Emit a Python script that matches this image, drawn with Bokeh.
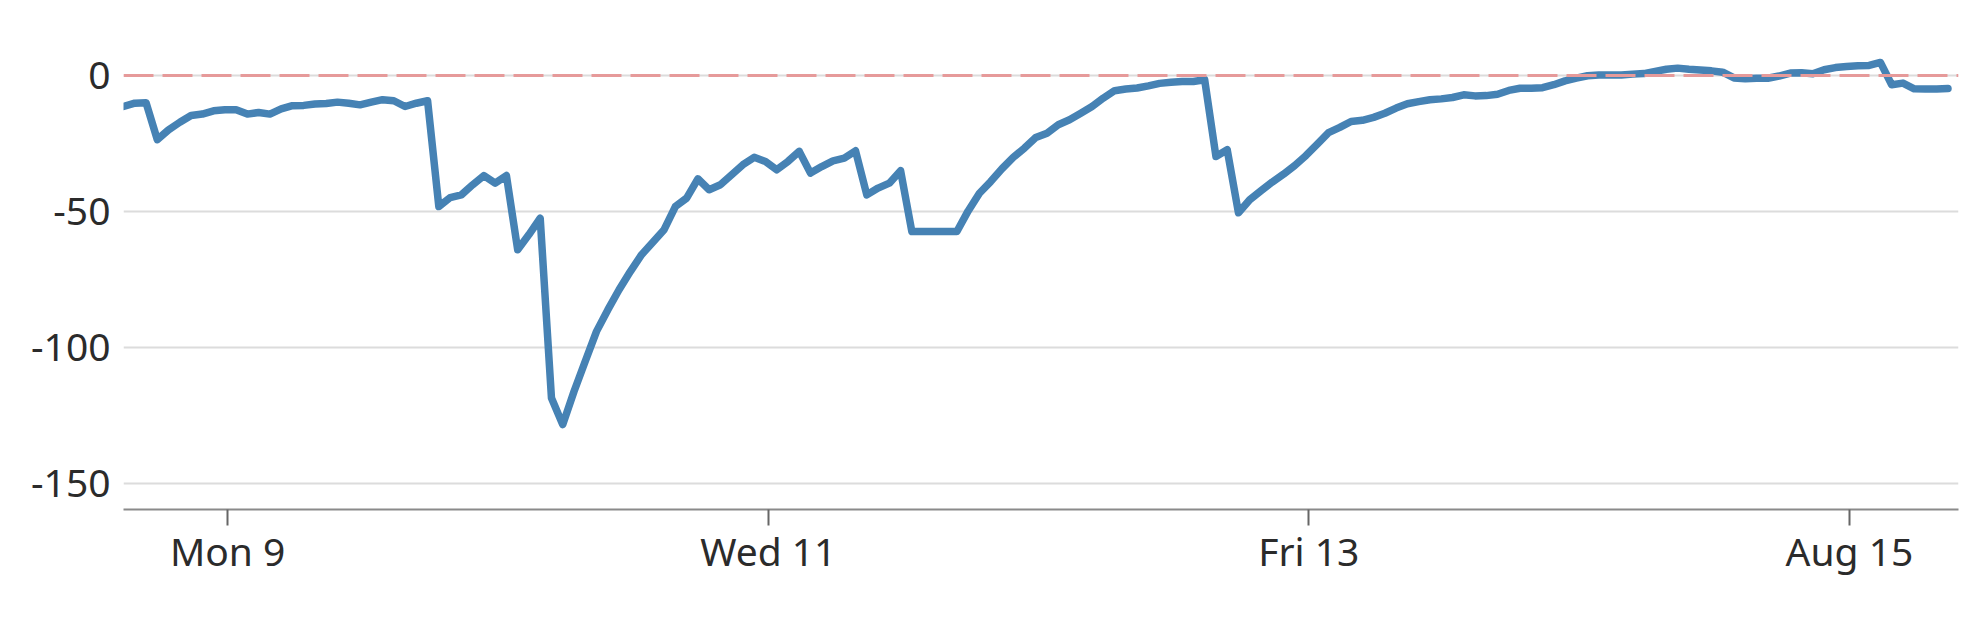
import pandas as pd
from bokeh.plotting import figure
from bokeh.models import FixedTicker, Range1d, Span
from bokeh.embed import file_html
from bokeh.resources import INLINE

# ---- data -------------------------------------------------------------
start = "2021-08-08 14:45"          # first hourly sample
values = [
    -11.4, -10.2, -10.0, -23.6, -20.0, -17.2, -14.7, -14.2, -13.0, -12.6,
    -12.6, -14.2, -13.6, -14.2, -12.3, -11.1, -11.0, -10.5, -10.3,
    -9.8, -10.2, -10.8, -9.8, -8.9, -9.3, -11.4, -10.2, -9.3, -48.2,
    -44.9, -43.9, -40.2, -36.8, -39.6, -36.8, -64.1, -58.5,
    -52.5, -118.6, -128.4, -116.2, -105.1, -94.1, -86.2, -78.8, -72.1,
    -65.9, -61.3, -56.7, -48.2, -45.1, -38.0, -42.0, -40.2,
    -36.5, -32.8, -30.1, -31.6, -34.7, -31.6, -27.9, -35.9, -33.5,
    -31.4, -30.4, -27.7, -43.9, -41.4, -39.6, -35.0, -57.4, -57.4,
    -57.4, -57.4, -57.4, -49.8, -43.3, -39.0, -34.3, -30.1, -26.7,
    -22.8, -21.2, -18.1, -16.3, -13.9, -11.4, -8.3, -5.6, -5.0,
    -4.6, -3.8, -2.9, -2.5, -2.2, -2.2, -1.6, -29.8, -27.3,
    -50.5, -45.7, -42.4, -39.2, -36.3, -33.1, -29.4, -25.2, -21.0,
    -19.1, -16.9, -16.5, -15.4, -13.9, -12.0, -10.4, -9.6, -8.9,
    -8.6, -8.1, -7.1, -7.5, -7.4, -6.9, -5.5, -4.7,
    -4.7, -4.5, -3.4, -2.0, -1.0, -0.1, 0.2, 0.2, 0.2, 0.5,
    0.7, 1.5, 2.3, 2.7, 2.3, 2.0, 1.7, 1.2, -0.9,
    -1.2, -1.0, -1.0, -0.2, 0.9, 1.0, 0.6, 2.1, 2.9, 3.3,
    3.6, 3.7, 4.8, -3.4, -2.8, -4.9, -5.0, -5.0, -4.8,
]
tick_dates = ["2021-08-09", "2021-08-11", "2021-08-13", "2021-08-15"]
tick_labels = ["Mon 9", "Wed 11", "Fri 13", "Aug 15"]
y_ticks = [-150, -100, -50, 0]
y_tick_labels = ["-150", "-100", "-50", "0"]
reference_level = 0

# ---- figure -----------------------------------------------------------
times = pd.date_range(start, periods=len(values), freq="h")
tick_ms = [float(pd.Timestamp(d).value / 1e6) for d in tick_dates]

FONT = "Noto Sans"
TEXT = "#2b2b2b"

p = figure(
    width=1964, height=609,
    x_axis_type="datetime",
    x_range=Range1d(times[0], times[-1] + pd.Timedelta(minutes=56)),
    y_range=Range1d(-159.6, 19.85),
    output_backend="svg", toolbar_location=None,
    min_border_left=123, min_border_right=6,
    min_border_top=21, min_border_bottom=100,
)
p.outline_line_color = None
p.background_fill_color = "white"
p.border_fill_color = "white"

p.xgrid.visible = False
p.ygrid.grid_line_color = "#dcdcdc"
p.ygrid.grid_line_width = 2

p.yaxis.ticker = FixedTicker(ticks=y_ticks)
p.yaxis.major_label_overrides = {t: s for t, s in zip(y_ticks, y_tick_labels)}
p.yaxis.axis_line_color = None
p.yaxis.major_tick_line_color = None
p.yaxis.minor_tick_line_color = None
p.yaxis.major_tick_out = 0
p.yaxis.major_tick_in = 0
p.yaxis.major_label_standoff = 13

p.xaxis.ticker = FixedTicker(ticks=tick_ms)
p.xaxis.major_label_overrides = {t: s for t, s in zip(tick_ms, tick_labels)}
p.xaxis.axis_line_color = "#8a8a8a"
p.xaxis.axis_line_width = 2
p.xaxis.major_tick_line_color = "#666666"
p.xaxis.major_tick_line_width = 2
p.xaxis.major_tick_out = 16
p.xaxis.major_tick_in = 0
p.xaxis.minor_tick_line_color = None
p.xaxis.major_label_standoff = -2

for ax in (p.xaxis, p.yaxis):
    ax.major_label_text_font = FONT
    ax.major_label_text_font_size = "39px"
    ax.major_label_text_color = TEXT

p.add_layout(Span(location=reference_level, dimension="width",
                  line_color="#e69a9a", line_width=3, line_dash="30 9"))

p.line(times, values, line_color="#4682b4", line_width=7.5,
       line_join="round", line_cap="round")

open("out.html", "w").write(file_html(p, INLINE))
